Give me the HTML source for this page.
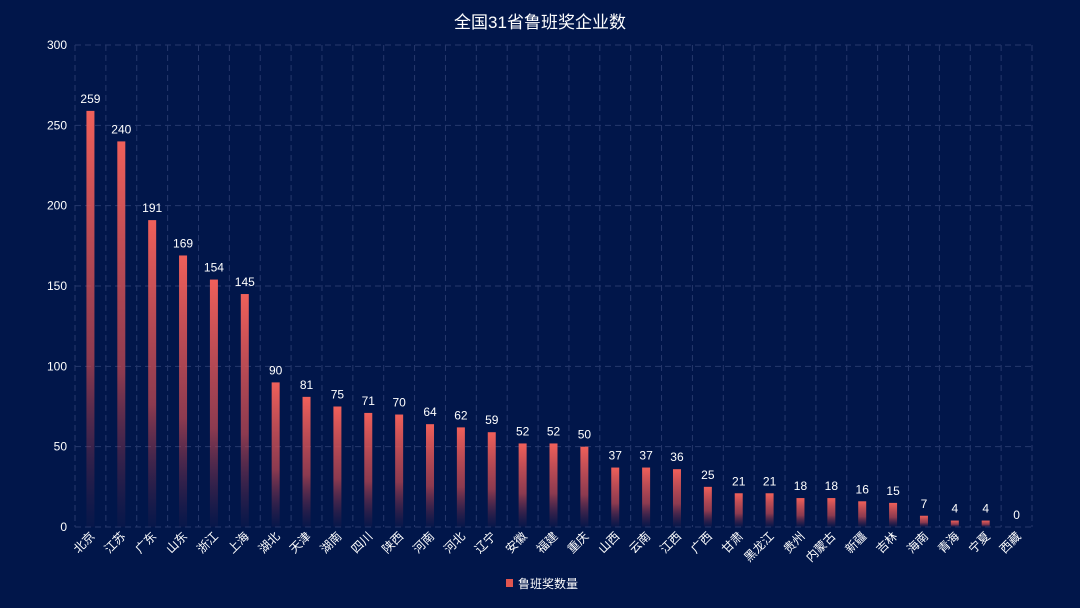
<!DOCTYPE html>
<html><head><meta charset="utf-8">
<style>
html,body{margin:0;padding:0;background:#01164a;}
svg{display:block;font-family:"Liberation Sans","Noto Sans CJK SC",sans-serif;}
</style></head>
<body>
<svg id="chart" width="1080" height="608">
<defs>
<linearGradient id="barGrad" x1="0" y1="0" x2="0" y2="1">
<stop offset="0" stop-color="#f0605a" stop-opacity="1"/>
<stop offset="0.6" stop-color="#c84a52" stop-opacity="0.7"/>
<stop offset="1" stop-color="#7a2a48" stop-opacity="0.05"/>
</linearGradient>
</defs>
<rect x="0" y="0" width="1080" height="608" fill="#01164a"/>
<text x="540" y="28" fill="#ffffff" font-size="17" text-anchor="middle">全国31省鲁班奖企业数</text>
<g id="grid"></g>
<g id="bars"></g>
<g id="legend">
<rect x="506" y="579" width="7" height="8" fill="#e0554f"/>
<text x="518" y="588" fill="#ffffff" font-size="12">鲁班奖数量</text>
</g>
</svg>
<script>
const categories = ["北京","江苏","广东","山东","浙江","上海","湖北","天津","湖南","四川","陕西","河南","河北","辽宁","安徽","福建","重庆","山西","云南","江西","广西","甘肃","黑龙江","贵州","内蒙古","新疆","吉林","海南","青海","宁夏","西藏"];
const values = [259,240,191,169,154,145,90,81,75,71,70,64,62,59,52,52,50,37,37,36,25,21,21,18,18,16,15,7,4,4,0];
const yTicks = [0,50,100,150,200,250,300];

const NS = "http://www.w3.org/2000/svg";
const plotLeft = 75, plotRight = 1032, plotTop = 45, plotBottom = 527, yMax = 300;
const band = (plotRight - plotLeft) / categories.length;
function yScale(v){ return plotBottom - v / yMax * (plotBottom - plotTop); }
function xCenter(i){ return plotLeft + band * (i + 0.5); }
function mk(tag, attrs, parent){ const e = document.createElementNS(NS, tag); for (const k in attrs) e.setAttribute(k, attrs[k]); parent.appendChild(e); return e; }

const grid = document.getElementById('grid');
yTicks.forEach(t => {
  const y = yScale(t);
  const l = mk('line', {x1:plotLeft, x2:plotRight, y1:y, y2:y, stroke:'#26386c', 'stroke-width':1, 'stroke-dasharray':'6,4'}, grid);
  
  
  const tx = mk('text', {x:67, y:y+4, fill:'#ffffff', 'font-size':12, 'text-anchor':'end'}, grid);
  tx.textContent = t;
  
  
});
for (let i = 0; i <= categories.length; i++) {
  const x = plotLeft + band * i;
  const l = mk('line', {x1:x, x2:x, y1:plotTop, y2:plotBottom, stroke:'#26386c', 'stroke-width':1, 'stroke-dasharray':'6,4'}, grid);
  
  
}
const bars = document.getElementById('bars');
categories.forEach((c, i) => {
  const cx = xCenter(i), v = values[i], y = yScale(v);
  const r = mk('rect', {x:cx-4, y:y, width:8, height:Math.max(0, plotBottom - y), fill:'url(#barGrad)'}, bars);
  
  
  const lbl = mk('text', {x:cx, y:y-8, fill:'#ffffff', 'font-size':12, 'text-anchor':'middle'}, bars);
  lbl.textContent = v;
  
  
  const xl = mk('text', {x:0, y:0, fill:'#ffffff', 'font-size':12, 'text-anchor':'end', transform:'translate(' + (cx+5) + ',' + (plotBottom+10) + ') rotate(-45)'}, bars);
  xl.textContent = c;
  
  
});
</script>
</body></html>
